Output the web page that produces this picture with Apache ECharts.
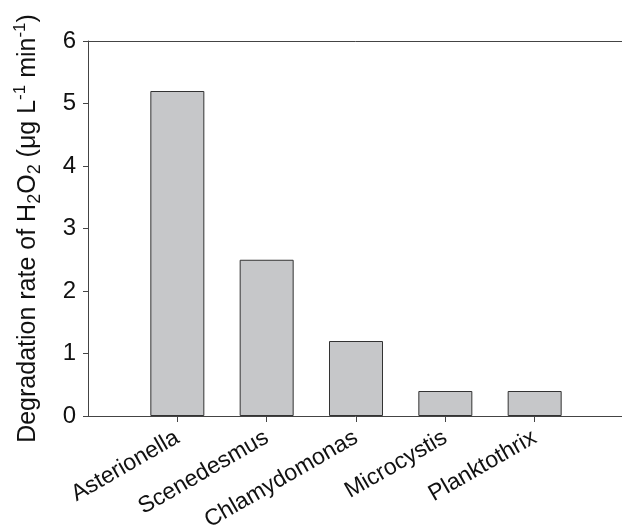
<!DOCTYPE html>
<html>
<head>
<meta charset="utf-8">
<script src="https://cdn.jsdelivr.net/npm/echarts@6/dist/echarts.min.js"></script>
<style>
  html, body { margin: 0; padding: 0; background: #fff; }
  #chart { width: 622px; height: 525px; }
</style>
</head>
<body>
<div id="chart"></div>
<script>
// Species and their H2O2 degradation rates (µg L-1 min-1)
const species = ['Asterionella', 'Scenedesmus', 'Chlamydomonas', 'Microcystis', 'Planktothrix'];
const degradationRate = [5.2, 2.5, 1.2, 0.4, 0.4];
const yTickValues = [0, 1, 2, 3, 4, 5, 6];

// Each species sits at an integer slot on a 0–6 horizontal scale
const slots = species.map((_, i) => i + 1);
const barData = slots.map((s, i) => [s, degradationRate[i]]);

const FONT = '"Liberation Sans", Arial, Helvetica, sans-serif';
const LINE = '#444';
const TEXT = '#111';

const chart = echarts.init(document.getElementById('chart'), null, { renderer: 'canvas' });

chart.setOption({
  animation: false,
  backgroundColor: '#fff',
  grid: { left: 88, right: -2, top: 41, bottom: 109, containLabel: false, outerBoundsMode: 'none' },
  xAxis: [
    {
      type: 'value',
      position: 'bottom',
      min: 0,
      max: 6,
      axisLine: { show: true, lineStyle: { color: LINE, width: 1 } },
      axisTick: { show: true, customValues: slots, length: 6, lineStyle: { color: LINE } },
      axisLabel: {
        customValues: slots,
        formatter: (v) => species[Math.round(v) - 1] || '',
        rotate: 30,
        margin: 20,
        fontSize: 23,
        fontFamily: FONT,
        color: TEXT
      },
      splitLine: { show: false }
    },
    {
      type: 'value',
      position: 'top',
      min: 0,
      max: 6,
      axisLine: { show: true, onZero: false, lineStyle: { color: LINE, width: 1 } },
      axisTick: { show: false },
      axisLabel: { show: false },
      splitLine: { show: false }
    }
  ],
  yAxis: {
    type: 'value',
    min: yTickValues[0],
    max: yTickValues[yTickValues.length - 1],
    interval: 1,
    axisLine: { show: true, lineStyle: { color: LINE, width: 1 } },
    axisTick: { show: true, inside: false, length: 5, lineStyle: { color: LINE } },
    axisLabel: { margin: 12, fontSize: 24, fontFamily: FONT, color: TEXT },
    splitLine: { show: false },
    name: '{t|Degradation rate of H}{sub|2}{t|O}{sub|2}{t| (μg L}{sup|-1}{t| min}{sup|-1}{t|)}',
    nameLocation: 'middle',
    nameRotate: 90,
    nameGap: 44,
    nameTextStyle: {
      fontSize: 25,
      fontFamily: FONT,
      color: TEXT,
      rich: {
        t: { fontSize: 25, fontFamily: FONT, color: TEXT, lineHeight: 32, verticalAlign: 'middle' },
        sub: { fontSize: 18, fontFamily: FONT, color: TEXT, verticalAlign: 'bottom' },
        sup: { fontSize: 17, fontFamily: FONT, color: TEXT, verticalAlign: 'top' }
      }
    }
  },
  series: [
    {
      type: 'bar',
      xAxisIndex: 0,
      yAxisIndex: 0,
      data: barData,
      barWidth: 54,
      itemStyle: { color: '#c6c7c9', borderColor: '#333', borderWidth: 1 }
    }
  ]
});
</script>
</body>
</html>
